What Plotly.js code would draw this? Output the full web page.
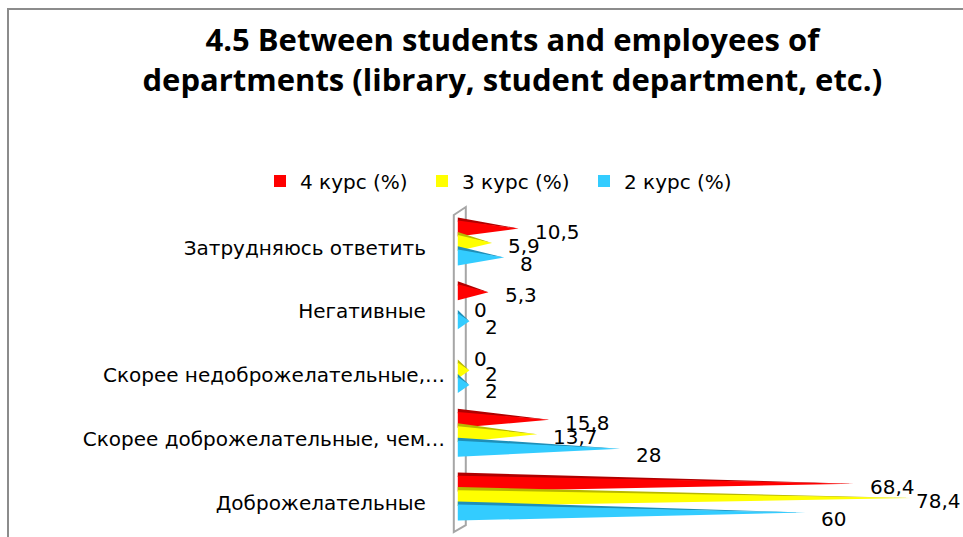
<!DOCTYPE html>
<html>
<head>
<meta charset="utf-8">
<script src="https://cdn.plot.ly/plotly-3.0.1.min.js"></script>
<style>
  html, body { margin: 0; padding: 0; background: #fff; }
  #graph { width: 963px; height: 537px; }
</style>
</head>
<body>
<div id="graph"></div>
<script>
//***** data
var categories = [
  'Затрудняюсь ответить\u00a0\u00a0\u00a0',
  'Негативные\u00a0\u00a0\u00a0',
  'Скорее недоброжелательные,…',
  'Скорее доброжелательные, чем…',
  'Доброжелательные\u00a0\u00a0\u00a0'
];
var kurs4 = [10.5, 5.3, 0, 15.8, 68.4];
var kurs3 = [5.9, 0, 2, 13.7, 78.4];
var kurs2 = [8, 2, 2, 28, 60];

var seriesNames = ['4 курс (%)', '3 курс (%)', '2 курс (%)'];
var seriesColors = ['#ff0000', '#ffff00', '#33ccff'];
var shadeColors = ['#b00000', '#b8b800', '#1f8fb8'];
var seriesValues = [kurs4, kurs3, kurs2];
var rowOffset = [-0.227, 0, 0.227];   // position of each series inside a category
var half = 0.125;                     // half height of a pyramid base

var labelFont = {family: 'DejaVu Sans, sans-serif', size: 20, color: '#000'};

//***** pyramids: one fill per series, polygons split by nulls
var data = [];
var annotations = [];
seriesValues.forEach(function (vals, s) {
  var sx = [], sy = [], tx = [], ty = [];
  vals.forEach(function (v, i) {
    var yc = i + rowOffset[s];
    // darker top face
    sx.push(0, v, 0, 0, null);
    sy.push(yc - half - 0.05, yc, yc - half + 0.02, yc - half - 0.05, null);
    // front face
    tx.push(0, v, 0, 0, null);
    ty.push(yc - half, yc, yc + half, yc - half, null);
    annotations.push({
      x: v, y: yc, xref: 'x', yref: 'y',
      text: String(v).replace('.', ','),
      showarrow: false, xanchor: 'left',
      xshift: v > 75 ? 2 : 14,          // the longest label is pulled in to stay inside
      yshift: s === 2 ? -6 : -3,
      font: labelFont
    });
  });
  data.push({
    x: sx, y: sy, type: 'scatter', mode: 'lines', fill: 'toself',
    fillcolor: shadeColors[s], line: {width: 0}, showlegend: false, hoverinfo: 'skip'
  });
  data.push({
    x: tx, y: ty, type: 'scatter', mode: 'lines', fill: 'toself',
    fillcolor: seriesColors[s], line: {width: 0}, showlegend: false, hoverinfo: 'skip'
  });
});
// legend entries (square keys)
seriesNames.forEach(function (name, s) {
  data.push({
    type: 'bar', orientation: 'h', x: [null], y: [null], name: name,
    marker: {color: seriesColors[s]}, hoverinfo: 'skip'
  });
});

//***** chart frame (outer border)
var W = 963, H = 537, L = 452, T = 200;
function px(x) { return (x - L) / (W - L); }
function py(y) { return 1 - (y - T) / (H - T); }

var shapes = [
  {type: 'rect', xref: 'paper', yref: 'paper', layer: 'below',
   x0: px(8), x1: px(975), y0: py(9), y1: py(550),
   fillcolor: 'rgba(0,0,0,0)', line: {color: '#8c8c8c', width: 2}},
  // 3d wall behind the pyramids
  {type: 'path', xref: 'x', yref: 'y', layer: 'below',
   path: 'M -0.69,-0.44 L 1.38,-0.565 L 1.38,4.424 L -0.69,4.533 Z',
   fillcolor: '#ffffff', line: {color: '#a6a6a6', width: 2}}
];

var layout = {
  width: W,
  height: H,
  margin: {l: L, r: 0, t: T, b: 0, autoexpand: false},
  paper_bgcolor: '#ffffff',
  plot_bgcolor: 'rgba(0,0,0,0)',
  hovermode: false,
  barmode: 'overlay',
  title: {
    text: '<b>4.5 Between students and employees of<br>departments (library, student department, etc.)</b>',
    font: {family: 'Open Sans, sans-serif', size: 31, color: '#000'},
    xref: 'container', yref: 'container',
    x: 0.532, y: 1 - 51 / 537, xanchor: 'center', yanchor: 'middle'
  },
  xaxis: {
    range: [-1, 87.2],
    showgrid: false, zeroline: false, showline: false,
    showticklabels: false, ticks: '', fixedrange: true
  },
  yaxis: {
    range: [4.61, -0.675],
    tickmode: 'array',
    tickvals: [0.07, 1.07, 2.07, 3.07, 4.07],
    ticktext: categories,
    tickfont: labelFont,
    ticks: '', ticklabelstandoff: 6,
    showgrid: false, zeroline: false, showline: false, fixedrange: true
  },
  legend: {
    orientation: 'h',
    xref: 'container', yref: 'paper',
    x: 260 / 963, y: py(181), xanchor: 'left', yanchor: 'middle',
    entrywidth: 117, entrywidthmode: 'pixels',
    font: labelFont,
    traceorder: 'normal'
  },
  shapes: shapes,
  annotations: annotations
};

Plotly.newPlot('graph', data, layout, {displayModeBar: false, staticPlot: true});
</script>
</body>
</html>
